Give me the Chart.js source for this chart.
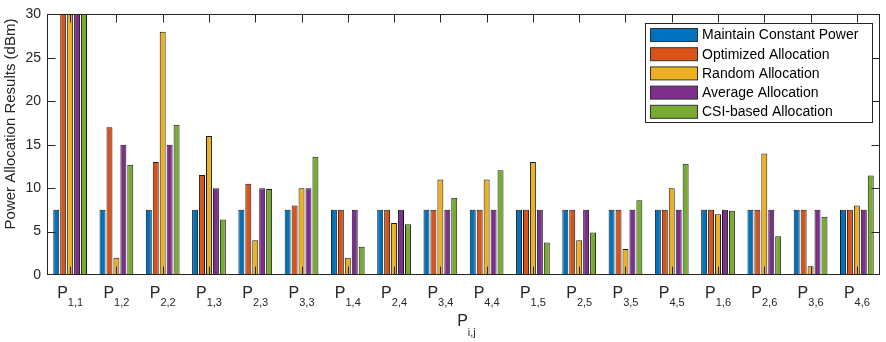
<!DOCTYPE html>
<html>
<head>
<meta charset="utf-8">
<script src="https://cdn.jsdelivr.net/npm/chart.js@4"></script>
<style>
  body { margin: 0; background: #fff; }
  canvas { display: block; }
</style>
</head>
<body>
<canvas id="myChart" width="886" height="342"></canvas>
<script>
// pair indices shown as subscripts under P
var pairLabels = ['1,1', '1,2', '2,2', '1,3', '2,3', '3,3', '1,4', '2,4', '3,4', '4,4', '1,5', '2,5', '3,5', '4,5', '1,6', '2,6', '3,6', '4,6'];

// series values (dBm), first group runs off the top of the axis
var constantPower = [7.5, 7.5, 7.5, 7.5, 7.5, 7.5, 7.5, 7.5, 7.5, 7.5, 7.5, 7.5, 7.5, 7.5, 7.5, 7.5, 7.5, 7.5];
var optimizedAlloc = [35, 17, 13, 11.5, 10.5, 8, 7.5, 7.5, 7.5, 7.5, 7.5, 7.5, 7.5, 7.5, 7.5, 7.5, 7.5, 7.5];
var randomAlloc = [35, 2, 28, 16, 4, 10, 2, 6, 11, 11, 13, 4, 3, 10, 7, 14, 1, 8];
var averageAlloc = [35, 15, 15, 10, 10, 10, 7.5, 7.5, 7.5, 7.5, 7.5, 7.5, 7.5, 7.5, 7.5, 7.5, 7.5, 7.5];
var csiAlloc = [35, 12.7, 17.3, 6.4, 9.9, 13.6, 3.25, 5.85, 8.9, 12.05, 3.75, 4.9, 8.6, 12.8, 7.4, 4.45, 6.7, 11.45];

var seriesNames = ['Maintain Constant Power', 'Optimized Allocation', 'Random Allocation', 'Average Allocation', 'CSI-based Allocation'];
var seriesColors = ['#0072BD', '#D95319', '#EDB120', '#7E2F8E', '#77AC30'];
var yTicks = [0, 5, 10, 15, 20, 25, 30];

var axisColor = '#262626';
var fontFamily = '"Liberation Sans", Arial, Helvetica, sans-serif';

Chart.defaults.font.family = fontFamily;

//draws the matlab style box, inner ticks, subscript labels and legend
var matlabAxes = {
	id: 'matlabAxes',
	afterDatasetsDraw: function(chart) {
		var ctx = chart.ctx;
		var a = chart.chartArea;
		var xs = chart.scales.x;
		var ys = chart.scales.y;
		var L = Math.round(a.left) + 0.5, R = Math.round(a.right) - 0.5;
		var T = Math.round(a.top) + 0.5, B = Math.round(a.bottom) - 0.5;
		var tick = 8;

		ctx.save();
		ctx.strokeStyle = axisColor;
		ctx.lineWidth = 1;
		ctx.beginPath();
		yTicks.forEach(function(v) {
			var py = Math.round(ys.getPixelForValue(v)) + 0.5;
			if (py > B) py = B;
			ctx.moveTo(L, py); ctx.lineTo(L + tick, py);
			ctx.moveTo(R, py); ctx.lineTo(R - tick, py);
		});
		pairLabels.forEach(function(lab, i) {
			var px = Math.round(xs.getPixelForValue(i)) + 0.5;
			ctx.moveTo(px, B); ctx.lineTo(px, B - tick);
			ctx.moveTo(px, T); ctx.lineTo(px, T + tick);
		});
		ctx.stroke();
		ctx.strokeRect(L, T, R - L, B - T);

		// x tick labels: P with subscript
		ctx.fillStyle = axisColor;
		ctx.textBaseline = 'alphabetic';
		ctx.textAlign = 'left';
		pairLabels.forEach(function(lab, i) {
			var cx = xs.getPixelForValue(i);
			ctx.font = '16px ' + fontFamily;
			var wP = ctx.measureText('P').width;
			ctx.font = '11px ' + fontFamily;
			var wS = ctx.measureText(lab).width;
			var x0 = cx - (wP + wS) / 2;
			ctx.font = '16px ' + fontFamily;
			ctx.fillText('P', x0, 298);
			ctx.font = '11px ' + fontFamily;
			ctx.fillText(lab, x0 + wP, 306);
		});

		// x axis title
		var mid = (a.left + a.right) / 2;
		ctx.font = '16px ' + fontFamily;
		var wT = ctx.measureText('P').width;
		ctx.font = '11px ' + fontFamily;
		var wTs = ctx.measureText('i,j').width;
		var tx = mid - (wT + wTs) / 2 + 3;
		ctx.font = '16px ' + fontFamily;
		ctx.fillText('P', tx, 326);
		ctx.font = '11px ' + fontFamily;
		ctx.fillText('i,j', tx + wT, 336);

		// y axis title
		ctx.save();
		ctx.translate(15, 124);
		ctx.rotate(-Math.PI / 2);
		ctx.textAlign = 'center';
		ctx.font = '15px ' + fontFamily;
		ctx.fillText('Power Allocation Results (dBm)', 0, 0);
		ctx.restore();

		// legend
		var lx = 645.5, ly = 23.5, lw = 227, lh = 99;
		ctx.fillStyle = '#fff';
		ctx.fillRect(lx, ly, lw, lh);
		ctx.strokeStyle = axisColor;
		ctx.strokeRect(lx, ly, lw, lh);
		ctx.font = '14px ' + fontFamily;
		ctx.textBaseline = 'middle';
		chart.data.datasets.forEach(function(ds, i) {
			var sy = 28.5 + i * 19.2;
			ctx.fillStyle = ds.backgroundColor;
			ctx.fillRect(650.5, sy, 47, 13);
			ctx.strokeStyle = '#333';
			ctx.strokeRect(650.5, sy, 47, 13);
			ctx.fillStyle = '#000';
			ctx.fillText(ds.label, 702, sy + 7);
		});
		ctx.restore();
	}
};

var datasets = [constantPower, optimizedAlloc, randomAlloc, averageAlloc, csiAlloc].map(function(vals, i) {
	return {
		label: seriesNames[i],
		data: vals,
		backgroundColor: seriesColors[i],
		borderColor: '#1a1a1a',
		borderWidth: 1,
		clip: 0,
		categoryPercentage: 0.75,
		barPercentage: 0.86
	};
});

var ctx = document.getElementById('myChart');
var myBarChart = new Chart(ctx, {
	type: 'bar',
	data: { labels: pairLabels, datasets: datasets },
	options: {
		responsive: false,
		devicePixelRatio: 1,
		animation: false,
		layout: { padding: { top: 10, right: 6, left: 0, bottom: 0 } },
		plugins: {
			legend: { display: false },
			tooltip: { enabled: false }
		},
		scales: {
			x: {
				offset: true,
				grid: { display: false },
				border: { display: false },
				ticks: { display: false },
				afterFit: function(scale) { scale.height = 67; }
			},
			y: {
				min: 0,
				max: 30,
				grid: { display: false, drawTicks: false },
				border: { display: false },
				ticks: {
					stepSize: 5,
					padding: 6,
					color: axisColor,
					font: { size: 14 }
				},
				afterFit: function(scale) { scale.width = 47; }
			}
		}
	},
	plugins: [matlabAxes]
});
</script>
</body>
</html>
